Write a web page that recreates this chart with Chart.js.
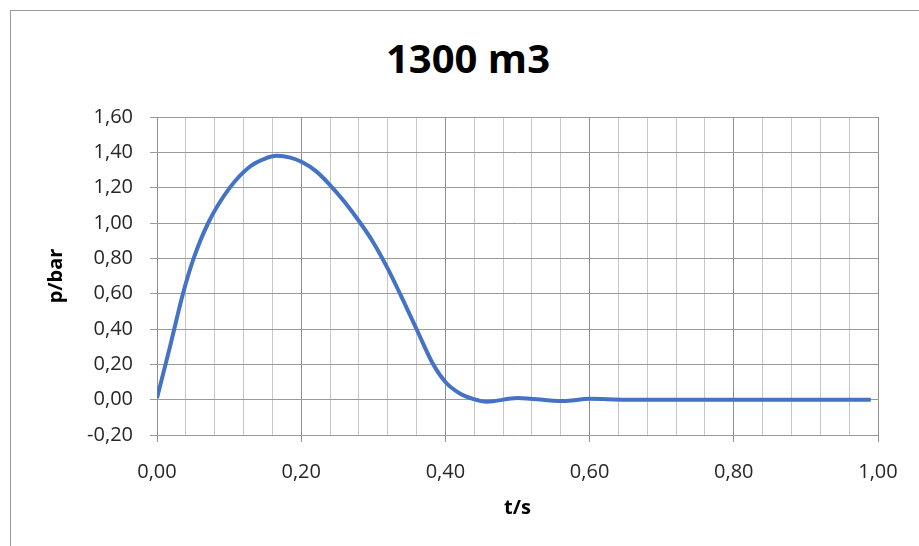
<!DOCTYPE html>
<html>
<head>
  <meta charset="utf-8">
  <title>1300 m3</title>
  <script src="https://cdn.jsdelivr.net/npm/chart.js"></script>
  <style>
    body {
      margin: 0;
      background: #fff;
      overflow: hidden;
      font-family: "Open Sans", sans-serif;
    }
    .frame {
      position: absolute;
      left: 10px;
      top: 10px;
      width: 1000px;
      height: 600px;
      border-top: 1px solid #9a9a9a;
      border-left: 1px solid #9a9a9a;
    }
    /* title sits over the middle of the whole frame, not the plot */
    .chart-title {
      position: absolute;
      left: 368px;
      width: 200px;
      top: 30px;
      text-align: center;
      font-size: 40px;
      line-height: 56px;
      font-weight: bold;
      color: #000;
    }
    .chart-box {
      position: absolute;
      left: 0;
      top: 0;
      width: 919px;
      height: 546px;
    }
  </style>
</head>
<body>
<div class="frame"></div>
<div class="chart-title">1300 m3</div>
<div class="chart-box">
  <canvas id="pressureChart"></canvas>
</div>

<script>
  // pressure curve: time in s, pressure in bar
  const timeS = [0, 0.018, 0.036, 0.05, 0.071, 0.101, 0.129, 0.15, 0.166, 0.185,
                 0.201, 0.22, 0.24, 0.26, 0.282, 0.30, 0.319, 0.337, 0.361, 0.383,
                 0.40, 0.42, 0.438, 0.457, 0.50, 0.563, 0.60, 0.65, 0.70, 0.80,
                 0.90, 0.99];
  const pressureBar = [0.01, 0.30, 0.60, 0.79, 1.00, 1.20, 1.32, 1.365, 1.38, 1.37,
                       1.345, 1.295, 1.215, 1.12, 1.00, 0.89, 0.75, 0.60, 0.39, 0.20,
                       0.10, 0.035, 0.005, -0.012, 0.01, -0.008, 0.005, 0, 0, 0,
                       0, 0];

  const xMin = 0, xMax = 1, xMinorStep = 0.04, xMajorStep = 0.2;
  const yMin = -0.2, yMax = 1.6, yStep = 0.2;

  const points = timeS.map((t, i) => ({ x: t, y: pressureBar[i] }));

  // true when the tick sits on a 0.2 step
  function isMajor(v) {
    const r = v / xMajorStep;
    return Math.abs(r - Math.round(r)) < 1e-6;
  }
  function comma(v) {
    return v.toFixed(2).replace('.', ',');
  }

  const ctx = document.getElementById('pressureChart').getContext('2d');
  const chart = new Chart(ctx, {
    type: 'line',
    data: {
      datasets: [{
        label: 'p',
        data: points,
        borderColor: '#4472c4',
        borderWidth: 4,
        pointRadius: 0,
        cubicInterpolationMode: 'monotone',
        fill: false
      }]
    },
    options: {
      responsive: true,
      maintainAspectRatio: false,
      animation: false,
      layout: {
        padding: { left: 0, right: 41, top: 117, bottom: 0 }
      },
      plugins: {
        legend: { display: false },
        tooltip: { enabled: false },
        title: { display: false }
      },
      scales: {
        x: {
          type: 'linear',
          min: xMin,
          max: xMax,
          afterFit: function(scale) { scale.height = 111; },
          ticks: {
            stepSize: xMinorStep,
            autoSkip: false,
            maxRotation: 0,
            padding: 18,
            color: '#262626',
            font: { family: 'Open Sans', size: 20 },
            callback: function(v) { return isMajor(v) ? comma(v) : ''; }
          },
          grid: {
            color: function(c) { return isMajor(c.tick.value) ? '#8f8f8f' : '#c6c6c6'; },
            tickColor: function(c) { return isMajor(c.tick.value) ? '#8f8f8f' : 'rgba(0,0,0,0)'; },
            tickLength: 7,
            lineWidth: 1
          },
          border: { display: false },
          title: {
            display: true,
            text: 't/s',
            color: '#000',
            font: { family: 'Open Sans', size: 20, weight: 'bold' },
            padding: { top: 0, bottom: 26 }
          }
        },
        y: {
          min: yMin,
          max: yMax,
          afterFit: function(scale) { scale.width = 157; },
          ticks: {
            stepSize: yStep,
            padding: 17,
            color: '#262626',
            font: { family: 'Open Sans', size: 20 },
            callback: function(v) { return comma(v); }
          },
          grid: {
            color: '#9a9a9a',
            tickColor: '#9a9a9a',
            tickLength: 7,
            lineWidth: 1
          },
          border: { display: false },
          title: {
            display: true,
            text: 'p/bar',
            color: '#000',
            font: { family: 'Open Sans', size: 20, weight: 'bold' },
            padding: { top: 44, bottom: 0 }
          }
        }
      }
    }
  });
</script>
</body>
</html>
